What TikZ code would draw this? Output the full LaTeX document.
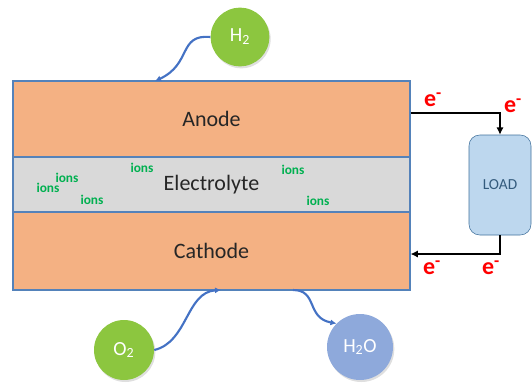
\documentclass[tikz,border=0pt]{standalone}
\usepackage{fontspec}
\setmainfont{Carlito}
\usepackage{xcolor}
\usepackage{tikz}
\usetikzlibrary{arrows.meta,positioning,calc,shadows}
\definecolor{electrode}{RGB}{244,177,131}
\definecolor{rimblue}{RGB}{84,130,186}
\definecolor{electrolytegrey}{RGB}{217,217,217}
\definecolor{gasgreen}{RGB}{140,198,63}
\definecolor{waterblue}{RGB}{142,169,219}
\definecolor{loadfill}{RGB}{189,215,238}
\definecolor{loadrim}{RGB}{65,113,156}
\definecolor{flowblue}{RGB}{68,114,196}
\definecolor{ionsgreen}{RGB}{0,176,80}
\definecolor{darktext}{RGB}{38,38,38}

\begin{document}
\begin{tikzpicture}[x=0.75pt,y=-0.75pt,>=Latex,font=\fontsize{16.5}{19}\selectfont,
  layer/.style={draw=rimblue,line width=0.8pt,minimum width=297.75pt,inner sep=0pt,text=darktext},
  gas/.style={circle,inner sep=0pt,text=white,font=\fontsize{15}{17}\selectfont,
    drop shadow={opacity=0.25,shadow xshift=1pt,shadow yshift=-1.5pt}},
  ionlabel/.style={text=ionsgreen,font=\bfseries\fontsize{10}{11}\selectfont,inner sep=0pt},
  eminus/.style={text=red,font=\bfseries\fontsize{18}{20}\selectfont,inner sep=0pt},
  flow/.style={->,flowblue,line width=1.6pt,>={Latex[length=4.5pt,width=4.5pt]}},
  wire/.style={->,black,line width=1.8pt,>={Latex[length=5.5pt,width=5.5pt]}}]
\useasboundingbox (0,0) rectangle (532,383);

% cell layers
\node[layer,fill=electrode,minimum height=57pt] (anode) at (211.5,119) {Anode};
\node[layer,fill=electrolytegrey,minimum height=41.25pt] (electrolyte) at (211.5,184.5) {Electrolyte};
\node[layer,fill=electrode,minimum height=58.5pt] (cathode) at (211.5,251) {Cathode};

% ions in the electrolyte
\node[ionlabel] (ion1) at (67,178) {ions};
\node[ionlabel] (ion2) at (48,188) {ions};
\node[ionlabel] (ion3) at (92,200) {ions};
\node[ionlabel] (ion4) at (142,168) {ions};
\node[ionlabel] (ion5) at (293,170) {ions};
\node[ionlabel] (ion6) at (318,201) {ions};

% gases
\node[gas,fill=gasgreen,minimum size=44pt] (h2) at (240,37) {H\textsubscript{2}};
\node[gas,fill=gasgreen,minimum size=45pt] (o2) at (124,350) {O\textsubscript{2}};
\node[gas,fill=waterblue,minimum size=49.5pt] (h2o) at (360,347) {H\textsubscript{2}O};

\coordinate (h2in) at (155,81);
\coordinate (o2in) at (221,290);
\coordinate (h2oout) at (293,290);
\draw[flow] (h2.west) .. controls (178,34) and (192,64) .. (h2in);
\draw[flow] (o2.east) .. controls (188,342) and (186,292) .. (o2in);
\draw[flow] (h2oout) .. controls (318,290) and (306,318) .. (h2o.north west);

% external circuit
\node[draw=loadrim,fill=loadfill,rounded corners=8pt,minimum width=46.5pt,minimum height=75pt,
  text=loadrim!80!black,font=\fontsize{11.5}{13}\selectfont] (load) at (500,185) {LOAD};
\coordinate (anodeout) at (anode.east |- 0,113);
\coordinate (cathodein) at (cathode.east |- 0,254);
\draw[wire] (anodeout) -| (load.north);
\draw[wire] (load.south) |- (cathodein);

\node[eminus] (e1) at (433,100) {e\textsuperscript{-}};
\node[eminus] (e2) at (513,106) {e\textsuperscript{-}};
\node[eminus] (e3) at (432,268) {e\textsuperscript{-}};
\node[eminus] (e4) at (491,268) {e\textsuperscript{-}};
\end{tikzpicture}
\end{document}
